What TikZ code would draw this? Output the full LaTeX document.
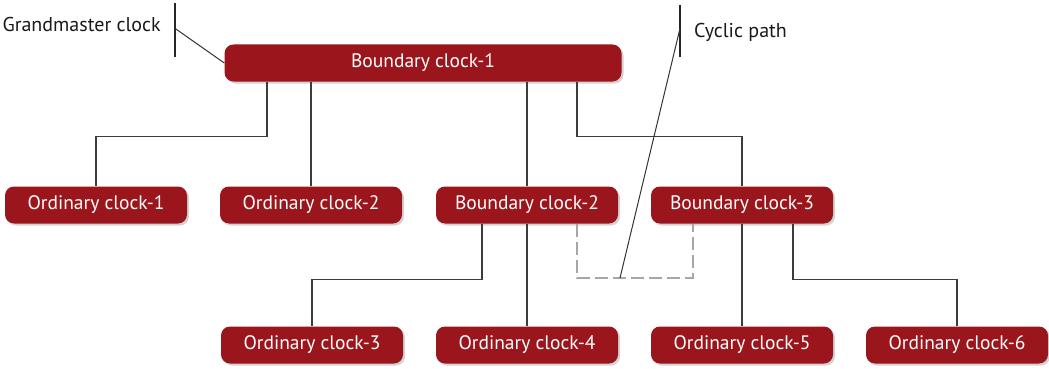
\documentclass[tikz,border=0pt]{standalone}
\usepackage{fontspec}
\setmainfont{PT Sans}
\usetikzlibrary{shadows,calc}
\definecolor{clockred}{HTML}{9B161C}
\definecolor{wiregray}{HTML}{3C3C3C}
\begin{document}
\begin{tikzpicture}[x=1pt, y=-1pt,
    clock/.style={fill=clockred, text=white, rounded corners=9pt, minimum width=182pt,
      minimum height=37pt, inner sep=0pt, font=\fontsize{19.5}{22}\selectfont,
      drop shadow={shadow xshift=2pt, shadow yshift=-2pt, opacity=0.35}},
    wire/.style={wiregray, line width=1.2pt},
    loopwire/.style={gray!70, line width=1.6pt, dash pattern=on 13pt off 5pt},
    bar/.style={black!85, line width=2.6pt},
    callout/.style={black!80, line width=1pt},
    lbl/.style={text=black!90, font=\fontsize{20}{22}\selectfont, inner sep=0pt}]
    \useasboundingbox (0,0) rectangle (1049,369);

    \node[clock, minimum width=397pt] (bc1) at (423,63) {Boundary clock-1};
    \node[clock] (oc1) at (96,205) {Ordinary clock-1};
    \node[clock] (oc2) at (311,205) {Ordinary clock-2};
    \node[clock] (bc2) at (527,205) {Boundary clock-2};
    \node[clock] (bc3) at (742,205) {Boundary clock-3};
    \node[clock] (oc3) at (312,345) {Ordinary clock-3};
    \node[clock] (oc4) at (527,345) {Ordinary clock-4};
    \node[clock] (oc5) at (742,345) {Ordinary clock-5};
    \node[clock] (oc6) at (957,345) {Ordinary clock-6};

    % tree links
    \draw[wire] ([xshift=-156pt]bc1.south) -- ++(0,55) -| (oc1.north);
    \draw[wire] (oc2.north) -- (oc2.north |- bc1.south);
    \draw[wire] (bc2.north) -- (bc2.north |- bc1.south);
    \draw[wire] ([xshift=154pt]bc1.south) -- ++(0,55) -| (bc3.north);
    \draw[wire] ([xshift=-45pt]bc2.south) -- ++(0,56) -| (oc3.north);
    \draw[wire] (bc2.south) -- (oc4.north);
    \draw[wire] (bc3.south) -- (oc5.north);
    \draw[wire] ([xshift=51pt]bc3.south) -- ++(0,56) -| (oc6.north);

    % redundant link
    \draw[loopwire] ([xshift=50pt]bc2.south) -- ++(0,54) coordinate (loopl)
      -- (loopl -| bc3.south west) -- ++(42pt,0) coordinate (loopr) -- (loopr |- bc3.south);
    \coordinate (cyc) at (620,278);

    % labels
    \node[lbl, anchor=east] (gm) at (161,25) {Grandmaster clock};
    \draw[bar] (175,3) coordinate (gmtop) -- (175,57) coordinate (gmbot);
    \draw[callout] ($(gmtop)!0.47!(gmbot)$) -- (bc1.west);
    \node[lbl, anchor=west] (cp) at (694,32) {Cyclic path};
    \draw[bar] (680,5) coordinate (cptop) -- (680,57) coordinate (cpbot);
    \draw[callout] ($(cptop)!0.45!(cpbot)$) -- (cyc);
\end{tikzpicture}
\end{document}
